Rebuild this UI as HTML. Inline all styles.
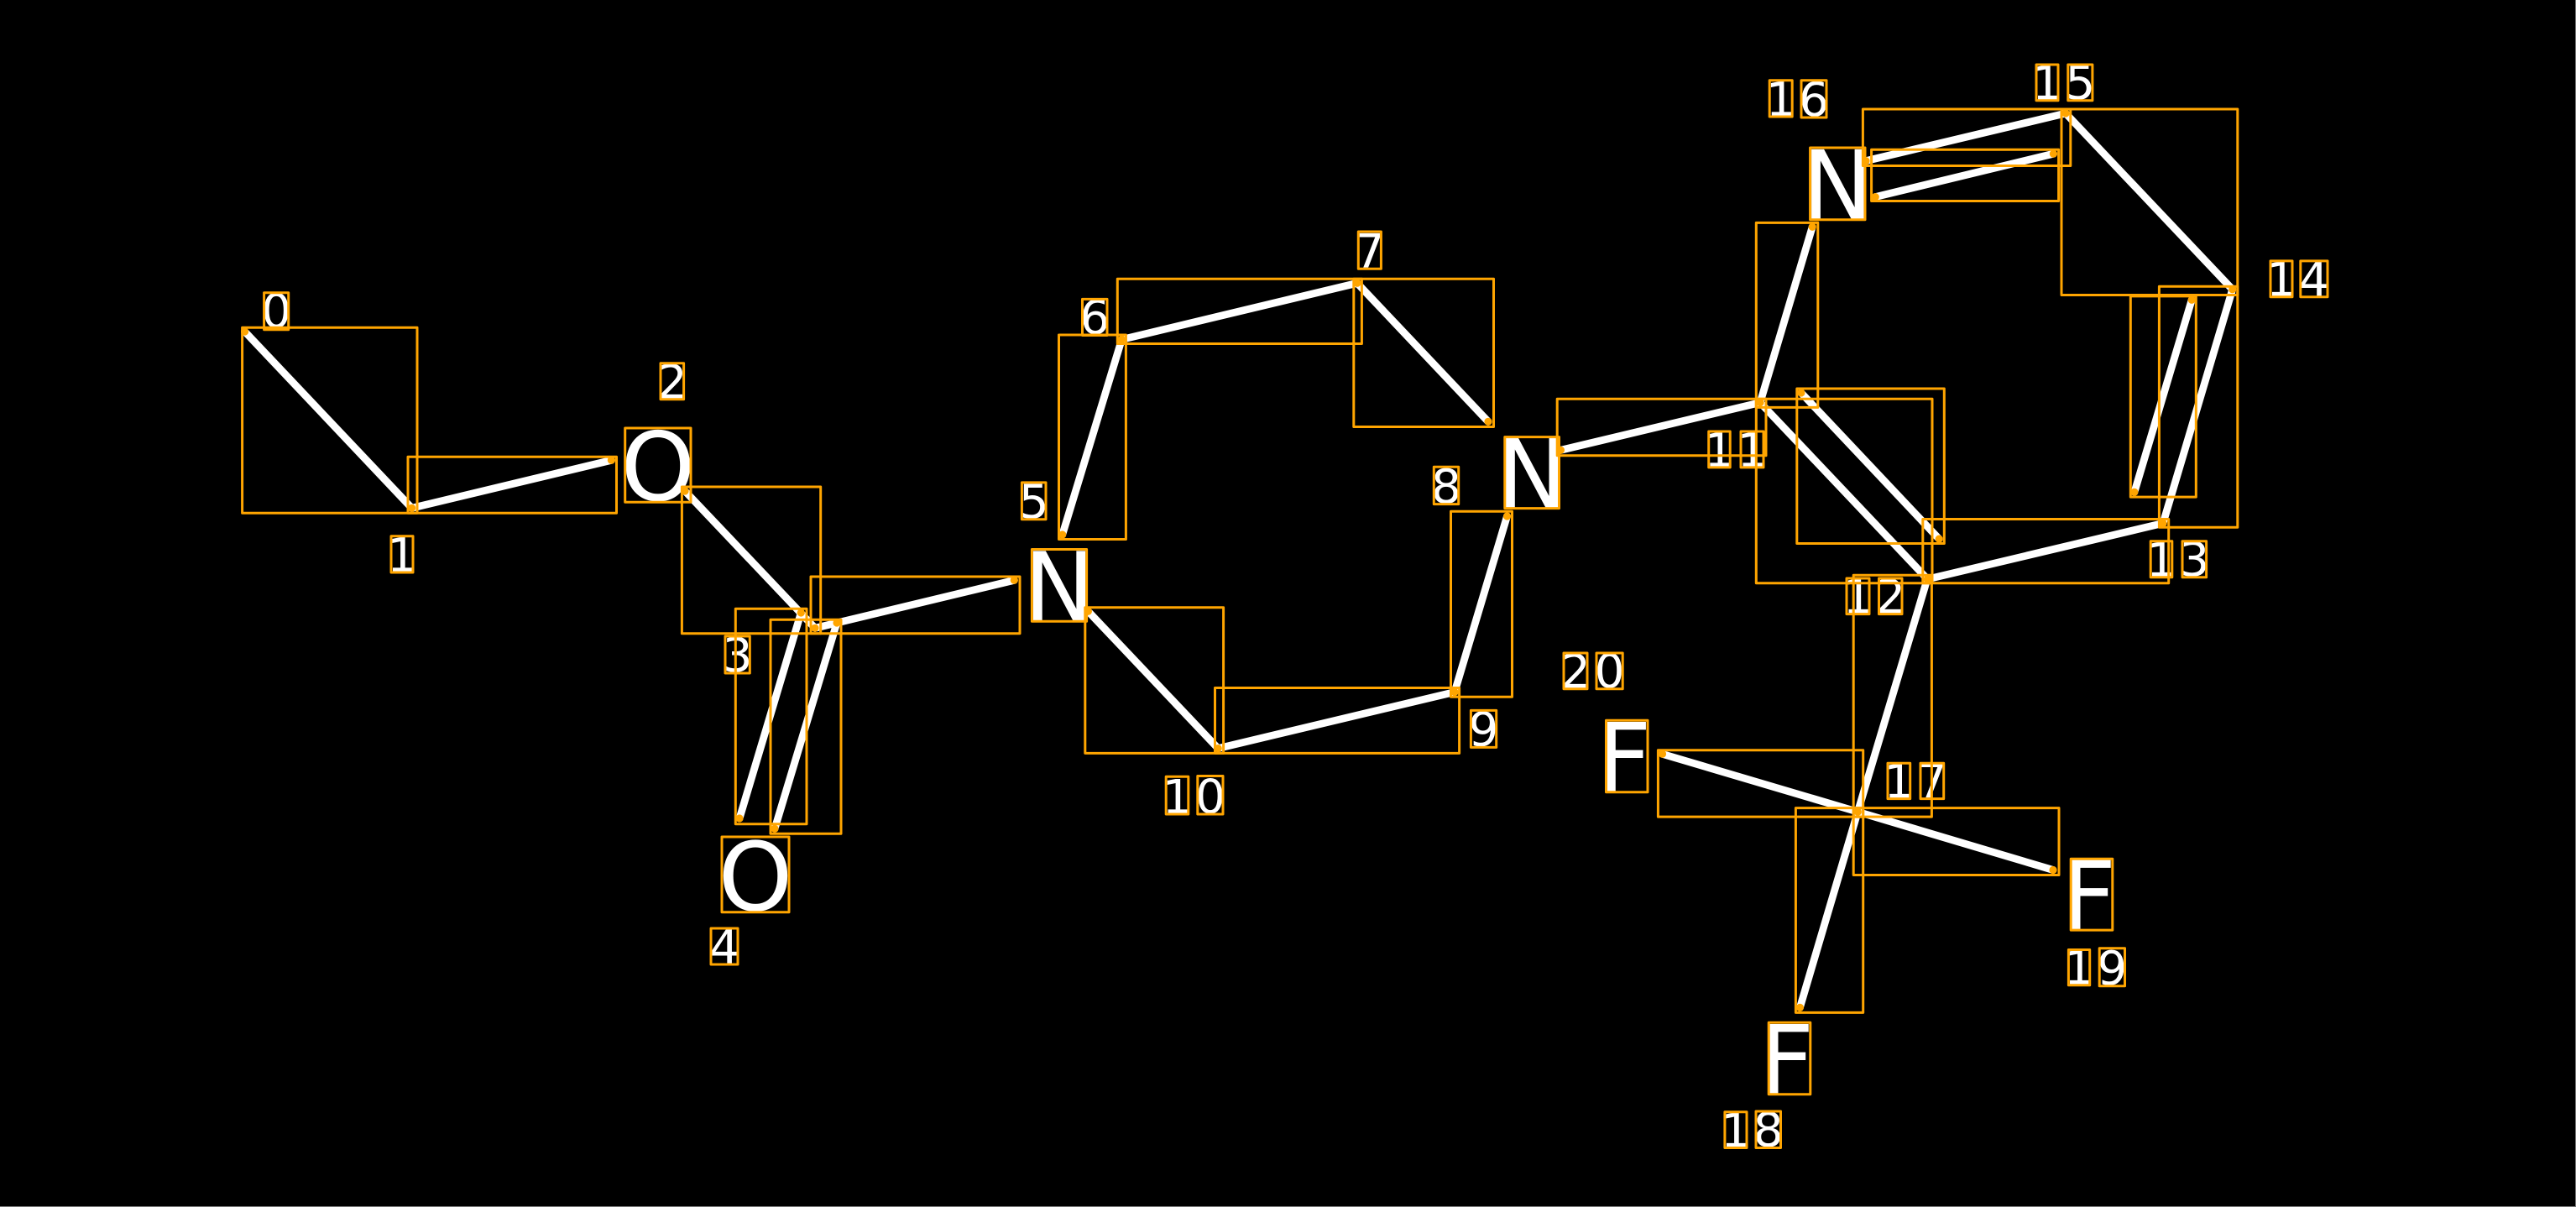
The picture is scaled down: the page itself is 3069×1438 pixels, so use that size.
<!DOCTYPE html>
<html><head><meta charset="utf-8"><style>
html,body{margin:0;padding:0;background:#000;width:3069px;height:1438px;overflow:hidden}
svg{display:block}
.b{stroke:#fff;stroke-width:8.8;stroke-linecap:round;fill:none}
.r rect{fill:none;stroke:#FFA500;stroke-width:3;stroke-linejoin:round}
.d circle{fill:#FFA500;r:4.6px}
text{font-family:"DejaVu Sans",sans-serif;fill:#fff;text-anchor:middle}
.l{font-size:113px}
.s{font-size:56.5px}
</style></head><body>
<svg width="3069" height="1438" viewBox="0 0 3069 1438" xmlns="http://www.w3.org/2000/svg">
<rect width="3069" height="1438" fill="#000"/>
<rect x="3068" y="0" width="1" height="1438" fill="#777"/>
<rect x="0" y="1437" width="3069" height="1" fill="#777"/>

<g class="b">
<line x1="291.6" y1="395" x2="490.6" y2="605.3"/>
<line x1="490.6" y1="605.3" x2="728.4" y2="548.3"/>
<line x1="816" y1="585" x2="971" y2="748.3"/>
<line x1="954.3" y1="730" x2="881" y2="975"/>
<line x1="997" y1="742" x2="923" y2="987.3"/>
<line x1="971" y1="748.3" x2="1208.3" y2="691.3"/>
<line x1="1265.7" y1="637" x2="1336.4" y2="404.5"/>
<line x1="1336.4" y1="404.5" x2="1616.9" y2="337.3"/>
<line x1="1616.9" y1="337.3" x2="1773" y2="502.3"/>
<line x1="1795.5" y1="615" x2="1733" y2="824.5"/>
<line x1="1733" y1="824.5" x2="1451.2" y2="891.6"/>
<line x1="1451.2" y1="891.6" x2="1296.4" y2="728.3"/>
<line x1="1859.4" y1="536.3" x2="2097" y2="479.6"/>
<line x1="2097" y1="479.6" x2="2159.2" y2="270.3"/>
<line x1="2097" y1="479.6" x2="2296.4" y2="690"/>
<line x1="2145.9" y1="468" x2="2310.2" y2="642.1"/>
<line x1="2296.4" y1="690" x2="2577" y2="623.4"/>
<line x1="2577" y1="623.4" x2="2659.7" y2="344.8"/>
<line x1="2542.9" y1="586.3" x2="2611.2" y2="357.3"/>
<line x1="2659.7" y1="344.8" x2="2461" y2="135"/>
<line x1="2461" y1="135" x2="2223" y2="191.7"/>
<line x1="2446.4" y1="183.2" x2="2234.2" y2="234.6"/>
<line x1="2296" y1="690.3" x2="2213.3" y2="967.2"/>
<line x1="2213.3" y1="967.2" x2="2144.4" y2="1200.4"/>
<line x1="2213.3" y1="967.2" x2="2446" y2="1036.5"/>
<line x1="2213.3" y1="967.2" x2="1980.5" y2="898.3"/>
</g>

<!-- atom letters -->
<text class="l" x="783.8" y="596">O</text>
<text class="l" x="900" y="1084.5">O</text>
<text class="l" x="1262" y="739">N</text>
<text class="l" x="1825.2" y="604.5">N</text>
<text class="l" x="2189.3" y="260.5">N</text>
<text class="l" x="1935" y="942.5">F</text>
<text class="l" x="2488.7" y="1107">F</text>
<text class="l" x="2128.7" y="1302.5">F</text>

<!-- index labels -->
<text class="s" x="329.2" y="390">0</text>
<text class="s" x="479" y="681">1</text>
<text class="s" x="800.8" y="474.5">2</text>
<text class="s" x="878.6" y="800">3</text>
<text class="s" x="863" y="1148">4</text>
<text class="s" x="1231.7" y="617">5</text>
<text class="s" x="1304.2" y="397.7">6</text>
<text class="s" x="1631.8" y="319">7</text>
<text class="s" x="1723" y="598.8">8</text>
<text class="s" x="1767.5" y="888.6">9</text>
<text class="s" x="1402.5" y="969">1</text><text class="s" x="1442" y="968.5">0</text>
<text class="s" x="2048.4" y="555.8">1</text><text class="s" x="2087.5" y="555.8">1</text>
<text class="s" x="2213.5" y="730.5">1</text><text class="s" x="2252.2" y="730.5">2</text>
<text class="s" x="2575" y="686.6">1</text><text class="s" x="2614.3" y="686">3</text>
<text class="s" x="2718" y="352.7">1</text><text class="s" x="2756.9" y="352.7">4</text>
<text class="s" x="2439" y="118.7">1</text><text class="s" x="2478.3" y="118">5</text>
<text class="s" x="2121.7" y="138">1</text><text class="s" x="2161" y="138">6</text>
<text class="s" x="2262.3" y="950.5">1</text><text class="s" x="2301.8" y="950.5">7</text>
<text class="s" x="2068" y="1366.4">1</text><text class="s" x="2106.7" y="1365.7">8</text>
<text class="s" x="2477" y="1172.7">1</text><text class="s" x="2516.3" y="1172.9">9</text>
<text class="s" x="1877" y="819.6">2</text><text class="s" x="1917.6" y="819">0</text>

<g class="r">
<!-- bond boxes -->
<rect x="288.6" y="390.3" width="208.4" height="221"/>
<rect x="486" y="544.3" width="248.5" height="67"/>
<rect x="812.4" y="580" width="165.3" height="174.7"/>
<rect x="876.3" y="725.3" width="84.7" height="256.4"/>
<rect x="918" y="738.3" width="84" height="255"/>
<rect x="966" y="687" width="249" height="67.7"/>
<rect x="1261.5" y="399" width="79.9" height="243.5"/>
<rect x="1331.3" y="332.3" width="291.1" height="77.2"/>
<rect x="1612.8" y="332.3" width="166.7" height="176.2"/>
<rect x="1728.5" y="609.3" width="73" height="221"/>
<rect x="1447.5" y="819.5" width="291.1" height="77.9"/>
<rect x="1292.8" y="723.7" width="164.8" height="173.7"/>
<rect x="1855.2" y="475.3" width="248.8" height="67.5"/>
<rect x="2092.3" y="265.4" width="73.5" height="220"/>
<rect x="2092.3" y="475.2" width="209.7" height="219.6"/>
<rect x="2140.8" y="463" width="175.5" height="184.5"/>
<rect x="2290.8" y="618.5" width="292.9" height="76.3"/>
<rect x="2572.4" y="341.3" width="93.4" height="287"/>
<rect x="2538.3" y="352.9" width="78" height="239.2"/>
<rect x="2456" y="130" width="209.8" height="221.5"/>
<rect x="2219.4" y="130" width="247.4" height="67.5"/>
<rect x="2229.6" y="178.3" width="223" height="61.2"/>
<rect x="2208.2" y="685.3" width="93.2" height="287.8"/>
<rect x="1975.4" y="893.7" width="244.3" height="79.4"/>
<rect x="2208.2" y="962.6" width="244.8" height="79.9"/>
<rect x="2139.4" y="962.6" width="80.3" height="243.8"/>
<!-- letter boxes -->
<rect x="744.7" y="510" width="78.3" height="88.3"/>
<rect x="860" y="997" width="80" height="89.7"/>
<rect x="1229.4" y="654.5" width="65.2" height="85.8"/>
<rect x="1792.8" y="520.6" width="64.7" height="85"/>
<rect x="2156.6" y="176" width="65.4" height="85.8"/>
<rect x="1913.5" y="858.3" width="49.5" height="85.4"/>
<rect x="2467.2" y="1023.2" width="49.6" height="84.9"/>
<rect x="2107.2" y="1218.3" width="49.6" height="85.4"/>
<!-- digit boxes -->
<rect x="314.6" y="348.7" width="29.1" height="44"/>
<rect x="466" y="638.7" width="26" height="43.3"/>
<rect x="787" y="432.7" width="27.6" height="43"/>
<rect x="864" y="758" width="29.3" height="44"/>
<rect x="847" y="1106" width="32" height="43"/>
<rect x="1217.4" y="574.9" width="28.6" height="43.9"/>
<rect x="1289.5" y="356.4" width="29.5" height="43.1"/>
<rect x="1618.3" y="276" width="27.1" height="44.3"/>
<rect x="1708.3" y="556.2" width="29.4" height="44.4"/>
<rect x="1752.4" y="846.4" width="30.3" height="44"/>
<rect x="1389.2" y="925.2" width="26.6" height="44.8"/>
<rect x="1426.8" y="924.5" width="30.2" height="45.5"/>
<rect x="2035.7" y="514" width="25.5" height="42.9"/>
<rect x="2074" y="514" width="27" height="42.9"/>
<rect x="2200" y="689" width="27" height="42.6"/>
<rect x="2238.5" y="689" width="27.5" height="42.6"/>
<rect x="2562.2" y="644.8" width="25.6" height="42.9"/>
<rect x="2600" y="644.8" width="28.6" height="42.9"/>
<rect x="2705" y="310.9" width="26" height="42.9"/>
<rect x="2740.8" y="310.9" width="32.2" height="42.9"/>
<rect x="2426" y="77" width="26" height="42.8"/>
<rect x="2463.8" y="77" width="29.1" height="42.8"/>
<rect x="2108.2" y="95.7" width="27" height="43.3"/>
<rect x="2146" y="95.7" width="30" height="44.3"/>
<rect x="2249" y="909.3" width="26.7" height="42.3"/>
<rect x="2288" y="909.3" width="27.7" height="42.3"/>
<rect x="2054.9" y="1324.8" width="26.1" height="42.7"/>
<rect x="2092" y="1324" width="29.5" height="43.5"/>
<rect x="2464.4" y="1131.5" width="25.3" height="42.3"/>
<rect x="2501.2" y="1129.7" width="30.3" height="45"/>
<rect x="1863" y="778" width="28" height="42.7"/>
<rect x="1902" y="778" width="31.2" height="42.7"/>
</g>

<g class="d">
<circle cx="291.6" cy="395"/><circle cx="490.6" cy="605.3"/><circle cx="728.4" cy="548.3"/>
<circle cx="816" cy="585"/><circle cx="971" cy="748.3"/><circle cx="954.3" cy="730"/>
<circle cx="881" cy="975"/><circle cx="997" cy="742"/><circle cx="923" cy="987.3"/>
<circle cx="1208.3" cy="691.3"/><circle cx="1265.7" cy="637"/><circle cx="1336.4" cy="404.5"/>
<circle cx="1616.9" cy="337.3"/><circle cx="1773" cy="502.3"/><circle cx="1795.5" cy="615"/>
<circle cx="1733" cy="824.5"/><circle cx="1451.2" cy="891.6"/><circle cx="1296.4" cy="728.3"/>
<circle cx="1859.4" cy="536.3"/><circle cx="2097" cy="479.6"/><circle cx="2159.2" cy="270.3"/>
<circle cx="2296.4" cy="690"/><circle cx="2145.9" cy="468"/><circle cx="2310.2" cy="642.1"/>
<circle cx="2577" cy="623.4"/><circle cx="2659.7" cy="344.8"/><circle cx="2542.9" cy="586.3"/>
<circle cx="2611.2" cy="357.3"/><circle cx="2461" cy="135"/><circle cx="2223" cy="191.7"/>
<circle cx="2446.4" cy="183.2"/><circle cx="2234.2" cy="234.6"/><circle cx="2213.3" cy="967.2"/>
<circle cx="2144.4" cy="1200.4"/><circle cx="2446" cy="1036.5"/><circle cx="1980.5" cy="898.3"/>
</g>
</svg>
</body></html>
